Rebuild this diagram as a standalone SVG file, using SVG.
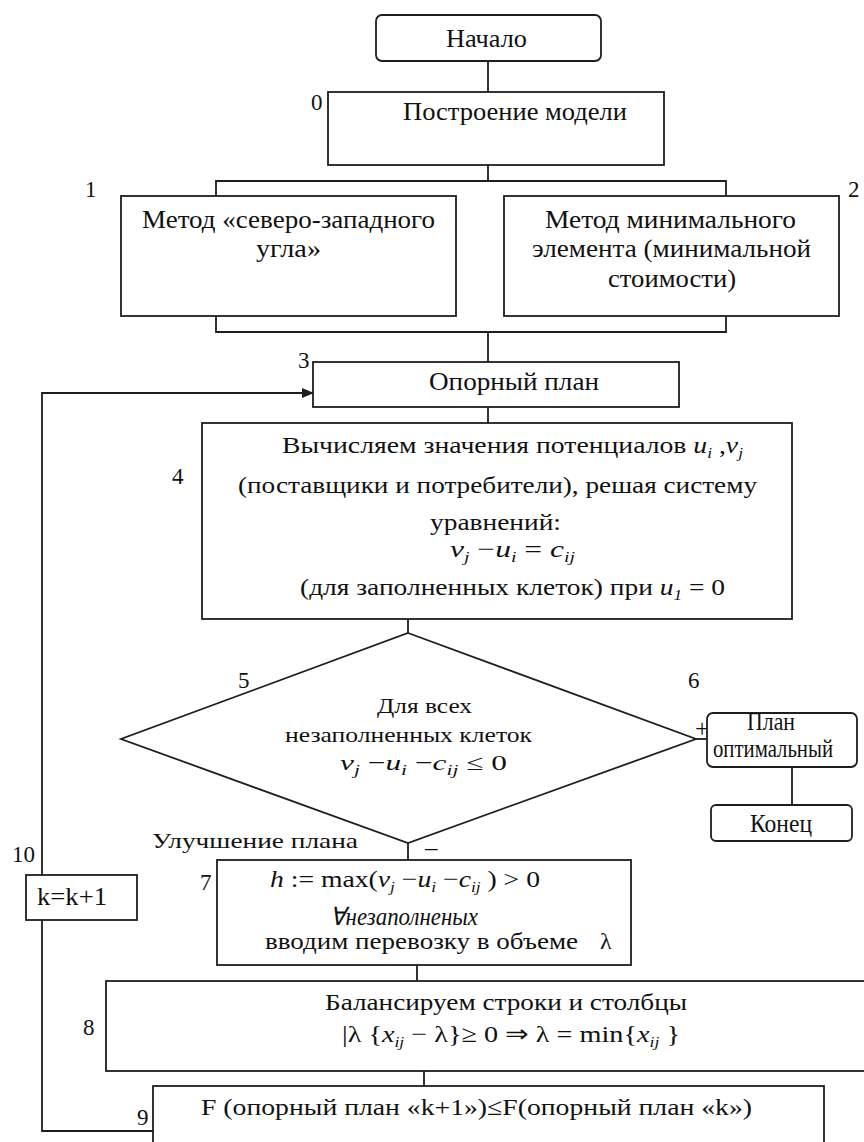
<svg xmlns="http://www.w3.org/2000/svg" width="864" height="1142" viewBox="0 0 864 1142">
<defs>
<style>
.b{fill:#fff;stroke:#1e1e1e;stroke-width:1.8}
.c{fill:none;stroke:#1e1e1e;stroke-width:1.8}
text{font-family:"Liberation Serif","Times New Roman",serif;fill:#111;font-size:25px}
.t{font-size:24px}
.lbl{font-size:23px}
.s{font-size:22px}
.i{font-style:italic}
.sub{font-size:15px;font-style:italic}
</style>
<marker id="ar" markerWidth="12" markerHeight="10" refX="11" refY="5" orient="auto" markerUnits="userSpaceOnUse">
<path d="M0,0 L12,5 L0,10 Z" fill="#1e1e1e"/>
</marker>
</defs>
<rect width="864" height="1142" fill="#fff"/>

<g id="connectors">
<path class="c" d="M488,61 V92"/>
<path class="c" d="M488,165 V181 M216,196 V181 H726 V196"/>
<path class="c" d="M216,316 V332 H726 V316 M488,332 V362"/>
<path class="c" d="M488,407 V423"/>
<path class="c" d="M408,619 V633"/>
<path class="c" d="M408,843 V860"/>
<path class="c" d="M696,739 H707"/>
<path class="c" d="M792,767 V805"/>
<path class="c" d="M417,965 V981"/>
<path class="c" d="M424,1071 V1086"/>
<path class="c" d="M153,1131 H42 V920"/>
<path class="c" d="M42,875 V393 H313" marker-end="url(#ar)"/>
</g>

<g id="start">
<rect class="b" x="376" y="15" width="225" height="46" rx="6"/>
<text x="446" y="47" textLength="81" lengthAdjust="spacingAndGlyphs">Начало</text>
</g>

<g id="n0">
<rect class="b" x="328" y="92" width="336" height="73"/>
<text x="403" y="120" textLength="224" lengthAdjust="spacingAndGlyphs">Построение модели</text>
<text class="lbl" x="311" y="110">0</text>
</g>

<g id="n1">
<rect class="b" x="121" y="196" width="335" height="120"/>
<text x="142" y="228" textLength="293" lengthAdjust="spacingAndGlyphs">Метод «северо-западного</text>
<text x="256" y="257" textLength="65" lengthAdjust="spacingAndGlyphs">угла»</text>
<text class="lbl" x="85" y="197">1</text>
</g>

<g id="n2">
<rect class="b" x="504" y="196" width="335" height="120"/>
<text x="545" y="228" textLength="251" lengthAdjust="spacingAndGlyphs">Метод минимального</text>
<text x="532" y="257" textLength="279" lengthAdjust="spacingAndGlyphs">элемента (минимальной</text>
<text x="608" y="287" textLength="128" lengthAdjust="spacingAndGlyphs">стоимости)</text>
<text class="lbl" x="848" y="197">2</text>
</g>

<g id="n3">
<rect class="b" x="313" y="362" width="366" height="45"/>
<text x="429" y="390" textLength="170" lengthAdjust="spacingAndGlyphs">Опорный план</text>
<text class="lbl" x="298" y="368">3</text>
</g>

<g id="n4">
<rect class="b" x="202" y="423" width="590" height="196"/>
<text class="t" x="282" y="453" textLength="461" lengthAdjust="spacingAndGlyphs">Вычисляем значения потенциалов <tspan class="i">u</tspan><tspan class="sub" dy="5">i</tspan><tspan dy="-5"> ,</tspan><tspan class="i">v</tspan><tspan class="sub" dy="5">j</tspan></text>
<text class="t" x="238" y="493" textLength="519" lengthAdjust="spacingAndGlyphs">(поставщики и потребители), решая систему</text>
<text class="t" x="430" y="530" textLength="131" lengthAdjust="spacingAndGlyphs">уравнений:</text>
<text class="t" x="450" y="557" textLength="125" lengthAdjust="spacingAndGlyphs"><tspan class="i">v</tspan><tspan class="sub" dy="5">j</tspan><tspan dy="-5"> −</tspan><tspan class="i">u</tspan><tspan class="sub" dy="5">i</tspan><tspan dy="-5"> = </tspan><tspan class="i">c</tspan><tspan class="sub" dy="5">ij</tspan></text>
<text class="t" x="300" y="595" textLength="425" lengthAdjust="spacingAndGlyphs">(для заполненных клеток) при <tspan class="i">u</tspan><tspan class="sub" dy="5">1</tspan><tspan dy="-5"> = 0</tspan></text>
<text class="lbl" x="172" y="484">4</text>
</g>

<g id="n5">
<polygon class="b" points="408,633 696,739 408,843 121,739"/>
<text class="s" x="377" y="713" textLength="95" lengthAdjust="spacingAndGlyphs">Для всех</text>
<text class="s" x="285" y="742" textLength="247" lengthAdjust="spacingAndGlyphs">незаполненных клеток</text>
<text class="s" x="340" y="770" textLength="167" lengthAdjust="spacingAndGlyphs"><tspan class="i">v</tspan><tspan class="sub" dy="5">j</tspan><tspan dy="-5"> −</tspan><tspan class="i">u</tspan><tspan class="sub" dy="5">i</tspan><tspan dy="-5"> −</tspan><tspan class="i">c</tspan><tspan class="sub" dy="5">ij</tspan><tspan dy="-5"> ≤ 0</tspan></text>
<text class="lbl" x="238" y="688">5</text>
<text class="lbl" x="688" y="688">6</text>
<text x="695" y="737" font-size="19">+</text>
<text class="s" x="152" y="848" textLength="206" lengthAdjust="spacingAndGlyphs">Улучшение плана</text>
<text x="425" y="856" font-size="20">–</text>
</g>

<g id="n6">
<rect class="b" x="707" y="713" width="150" height="54" rx="6"/>
<text x="747" y="730" font-size="14" textLength="48" lengthAdjust="spacingAndGlyphs">План</text>
<text x="713" y="757" font-size="14" textLength="120" lengthAdjust="spacingAndGlyphs">оптимальный</text>
</g>

<g id="end">
<rect class="b" x="711" y="805" width="141" height="36" rx="5"/>
<text x="750" y="832" font-size="20" textLength="62" lengthAdjust="spacingAndGlyphs">Конец</text>
</g>

<g id="n10">
<rect class="b" x="26" y="875" width="111" height="45"/>
<text x="37" y="905" textLength="70" lengthAdjust="spacingAndGlyphs">k=k+1</text>
<text class="lbl" x="12" y="862">10</text>
</g>

<g id="n7">
<rect class="b" x="217" y="860" width="414" height="105"/>
<text class="t" x="270" y="887" textLength="270" lengthAdjust="spacingAndGlyphs"><tspan class="i">h</tspan> := max(<tspan class="i">v</tspan><tspan class="sub" dy="5">j</tspan><tspan dy="-5"> −</tspan><tspan class="i">u</tspan><tspan class="sub" dy="5">i</tspan><tspan dy="-5"> −</tspan><tspan class="i">c</tspan><tspan class="sub" dy="5">ij</tspan><tspan dy="-5"> ) &gt; 0</tspan></text>
<text x="330" y="925" font-size="14" font-style="italic" textLength="148" lengthAdjust="spacingAndGlyphs">∀незаполненых</text>
<text class="t" x="265" y="949" textLength="313" lengthAdjust="spacingAndGlyphs">вводим перевозку в объеме</text>
<text class="t" x="600" y="949">λ</text>
<text class="lbl" x="200" y="890">7</text>
</g>

<g id="n8">
<rect class="b" x="106" y="981" width="780" height="90"/>
<text class="t" x="325" y="1010" textLength="362" lengthAdjust="spacingAndGlyphs">Балансируем строки и столбцы</text>
<text class="t" x="342" y="1042" textLength="338" lengthAdjust="spacingAndGlyphs">|λ  {<tspan class="i">x</tspan><tspan class="sub" dy="5">ij</tspan><tspan dy="-5"> − λ}≥ 0 ⇒ λ = min{</tspan><tspan class="i">x</tspan><tspan class="sub" dy="5">ij</tspan><tspan dy="-5"> }</tspan></text>
<text class="lbl" x="83" y="1035">8</text>
</g>

<g id="n9">
<rect class="b" x="153" y="1086" width="671" height="70"/>
<text class="t" x="201" y="1115" textLength="551" lengthAdjust="spacingAndGlyphs">F (опорный план «k+1»)≤F(опорный план «k»)</text>
<text class="lbl" x="137" y="1125">9</text>
</g>
</svg>
